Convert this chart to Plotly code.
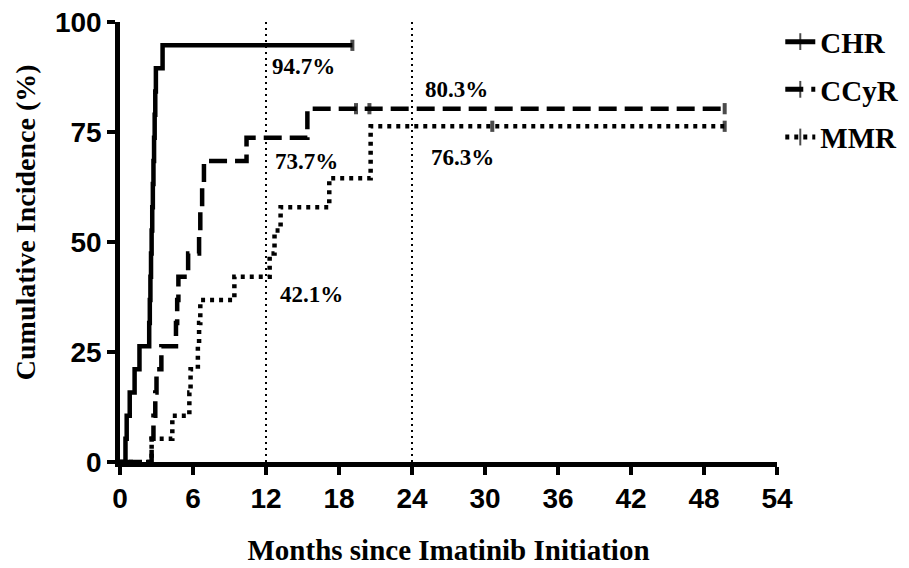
import plotly.graph_objects as go

# ---------------- data ----------------
series_names = ["CHR", "CCyR", "MMR"]

# event times (months) and cumulative incidence (%) after each event
chr_months = [0.45, 0.55, 0.8, 1.2, 1.6, 2.4, 2.45, 2.5, 2.55, 2.6, 2.65, 2.7,
              2.75, 2.8, 2.85, 2.9, 2.95, 3.5]
chr_pct = [5.3, 10.5, 15.8, 21.1, 26.3, 31.6, 36.8, 42.1, 47.4, 52.6, 57.9, 63.2,
           68.4, 73.7, 78.9, 84.2, 89.5, 94.7]
chr_censor = [19.1]

ccyr_months = [2.6, 2.75, 2.9, 3.0, 3.4, 4.6, 4.7, 4.8, 5.6, 6.5, 6.6, 6.75, 6.9,
               10.4, 15.4]
ccyr_pct = [5.3, 10.5, 15.8, 21.1, 26.3, 31.6, 36.8, 42.1, 47.4, 52.6, 57.9, 63.2,
            68.4, 73.7, 80.3]
ccyr_censor = [19.4, 20.5, 49.7]

mmr_months = [2.6, 4.3, 5.7, 5.8, 6.4, 6.5, 6.6, 9.4, 12.3, 12.7, 13.2, 17.2, 20.6]
mmr_pct = [5.3, 10.5, 15.8, 21.1, 26.3, 31.6, 36.8, 42.1, 47.4, 52.6, 57.9, 64.5, 76.3]
mmr_censor = [30.6, 49.7]

landmarks = [12, 24]

label_texts = ["94.7%", "80.3%", "73.7%", "76.3%", "42.1%"]
label_x = [12.3, 24.9, 12.6, 25.4, 13.0]
label_y = [89.8, 84.6, 68.4, 69.2, 38.1]

x_ticks = [0, 6, 12, 18, 24, 30, 36, 42, 48, 54]
y_ticks = [0, 25, 50, 75, 100]

dashes = ["solid", "18px,8px", "4px,5px"]


def km_path(times, pcts, censors):
    """Build step path points (with censor points inserted on the steps)."""
    pts = [(0.0, 0.0, False)]
    for t, p in zip(times, pcts):
        pts.append((t, p, False))
    for c in censors:
        lvl = 0.0
        for t, p in zip(times, pcts):
            if t <= c:
                lvl = p
        pts.append((c, lvl, True))
    pts.sort(key=lambda a: a[0])
    xs = [a[0] for a in pts]
    ys = [a[1] for a in pts]
    sz = [8 if a[2] else 0 for a in pts]
    return xs, ys, sz


fig = go.Figure()

# landmark vertical dotted lines
for m in landmarks:
    fig.add_trace(go.Scatter(
        x=[m, m], y=[0, 100], mode="lines",
        line=dict(color="black", width=2, dash="2px,4px"),
        showlegend=False, hoverinfo="skip"))

all_series = [
    (chr_months, chr_pct, chr_censor),
    (ccyr_months, ccyr_pct, ccyr_censor),
    (mmr_months, mmr_pct, mmr_censor),
]

for name, (t, p, c), dash in zip(series_names, all_series, dashes):
    xs, ys, sz = km_path(t, p, c)
    fig.add_trace(go.Scatter(
        x=xs, y=ys, name=name, legendgroup=name,
        mode="lines+markers", line_shape="hv",
        line=dict(color="black", width=4.5, dash=dash),
        marker=dict(symbol="line-ns", size=sz, color="black",
                    line=dict(color="black", width=4)),
        cliponaxis=False,
    ))

for txt, x, y in zip(label_texts, label_x, label_y):
    fig.add_annotation(
        x=x, y=y, text=txt, showarrow=False, xanchor="left", yanchor="middle",
        font=dict(family="Liberation Serif", size=23, color="black", weight="bold"))

# y-axis title as a rotated annotation (sits a little above the plot centre)
fig.add_annotation(
    x=0, xref="paper", xanchor="center", xshift=-95,
    y=0.545, yref="paper", yanchor="middle",
    text="Cumulative Incidence (%)", textangle=-90, showarrow=False,
    font=dict(family="Liberation Serif", size=28, color="black", weight="bold"))

fig.update_layout(
    width=901, height=560,
    margin=dict(l=112, r=132, t=14, b=106, autoexpand=False),
    paper_bgcolor="white", plot_bgcolor="white",
    showlegend=True,
    legend=dict(
        x=1.005, xanchor="left", y=1.013, yanchor="top",
        traceorder="grouped", tracegroupgap=7, itemsizing="constant",
        font=dict(family="Liberation Serif", size=29, color="black", weight="bold"),
        bgcolor="rgba(0,0,0,0)"),
)

fig.update_xaxes(
    range=[0, 54], tickvals=x_ticks, ticktext=[str(v) for v in x_ticks],
    automargin=False, ticklabeloverflow="allow",
    showgrid=False, zeroline=False,
    showline=True, linecolor="black", linewidth=4.5,
    ticks="outside", ticklen=8, tickwidth=4, tickcolor="black",
    ticklabelstandoff=0,
    tickfont=dict(family="Liberation Sans", size=28, color="black", weight="bold"),
    title=dict(text="Months since Imatinib Initiation", standoff=28,
               font=dict(family="Liberation Serif", size=29, color="black", weight="bold")),
)

fig.update_yaxes(
    range=[0, 100], tickvals=y_ticks, ticktext=[str(v) for v in y_ticks],
    automargin=False, ticklabeloverflow="allow",
    showgrid=False, zeroline=False,
    showline=True, linecolor="black", linewidth=4.5,
    ticks="outside", ticklen=8, tickwidth=4, tickcolor="black",
    ticklabelstandoff=0,
    tickfont=dict(family="Liberation Sans", size=28, color="black", weight="bold"),
)

fig.write_html("out.html")
